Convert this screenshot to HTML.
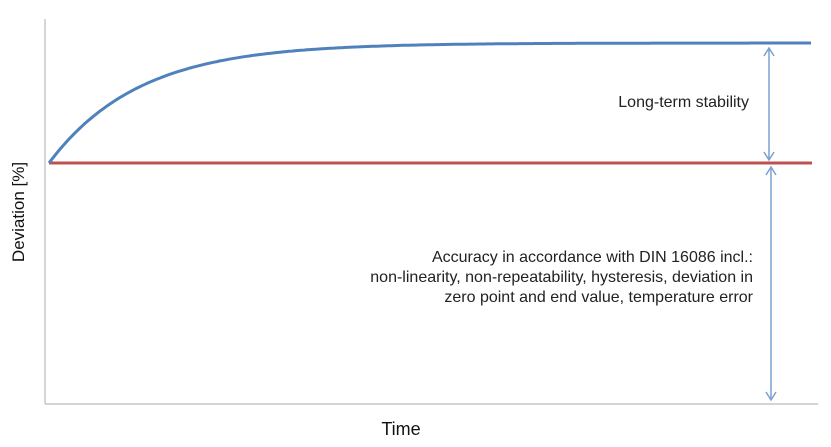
<!DOCTYPE html>
<html><head><style>body{margin:0;background:#fff}</style></head><body>
<svg width="831" height="442" xmlns="http://www.w3.org/2000/svg" font-family="Liberation Sans, sans-serif">
<line x1="45" y1="19" x2="45" y2="404" stroke="#bbb" stroke-width="1.2"/>
<line x1="45" y1="404" x2="818" y2="404" stroke="#bbb" stroke-width="1.2"/>
<line x1="49" y1="163" x2="812" y2="163" stroke="#c0504d" stroke-width="3"/>
<path id="c" fill="none" stroke="#4f81bd" stroke-width="3" d="M49,163 L812,43"/>
<script>
(function(){var d="M49,163";for(var x=52;x<=812;x+=3){var y=163-120*(1-Math.exp(-(x-49)/90));d+=" L"+x+","+y.toFixed(1);}document.getElementById('c').setAttribute('d',d);})();
</script>
<g stroke="#7ba0d0" stroke-width="1.5" fill="none">
<line x1="769" y1="48" x2="769" y2="160"/>
<polyline points="764,56 769,48 774,56"/>
<polyline points="764,152 769,160 774,152"/>
<line x1="771" y1="167" x2="771" y2="400"/>
<polyline points="766,175 771,167 776,175"/>
<polyline points="766,392 771,400 776,392"/>
</g>
<g font-size="16" fill="#222" text-anchor="end">
<text x="749" y="107">Long-term stability</text>
<text x="753" y="262">Accuracy in accordance with DIN 16086 incl.:</text>
<text x="753" y="282">non-linearity, non-repeatability, hysteresis, deviation in</text>
<text x="753" y="302">zero point and end value, temperature error</text>
</g>
<text x="401" y="435" font-size="18" text-anchor="middle" fill="#111">Time</text>
<text transform="translate(24,212) rotate(-90)" font-size="17" text-anchor="middle" fill="#111">Deviation [%]</text>
</svg>
</body></html>
